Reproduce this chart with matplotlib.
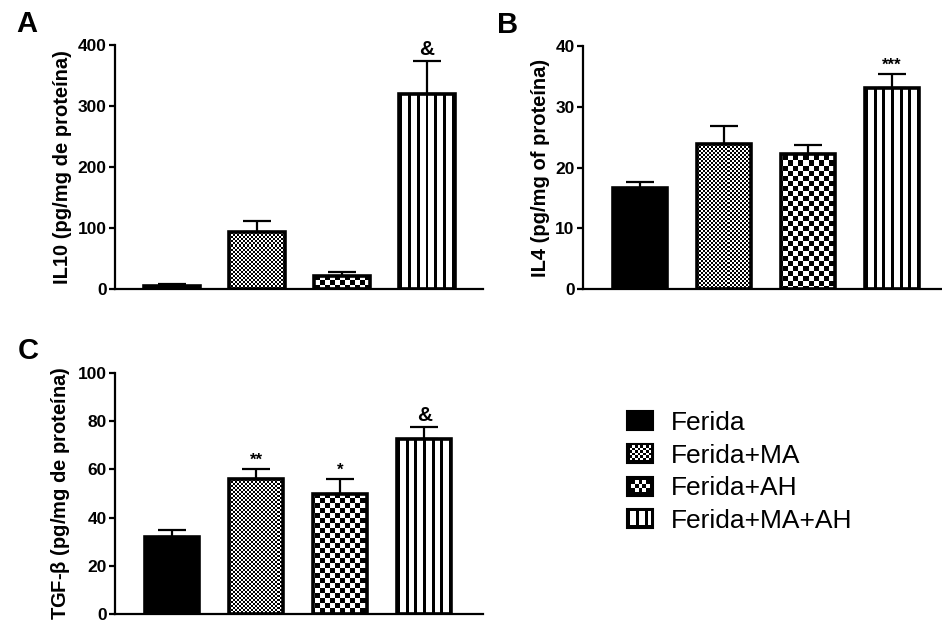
import numpy as np
import matplotlib
matplotlib.use("Agg")
import matplotlib.pyplot as plt
from matplotlib.legend_handler import HandlerBase
from matplotlib.image import BboxImage
from matplotlib.transforms import Bbox, TransformedBbox
from matplotlib.patches import Rectangle, Patch
from matplotlib.colors import Normalize

plt.rcParams['font.family'] = ['Liberation Sans', 'DejaVu Sans']

# ---------------- data ----------------
groups = ["Ferida", "Ferida+MA", "Ferida+AH", "Ferida+MA+AH"]

il10_mean = [4.3, 94, 21, 320]
il10_err = [4.4, 18, 7, 54]
il10_marks = ["", "", "", "&"]

il4_mean = [16.7, 23.8, 22.3, 33.1]
il4_err = [0.9, 3.1, 1.4, 2.3]
il4_marks = ["", "", "", "***"]

tgf_mean = [32, 56, 50, 72.8]
tgf_err = [3, 4, 6, 5]
tgf_marks = ["", "**", "*", "&"]

il10_ticks = [0, 100, 200, 300, 400]
il4_ticks = [0, 10, 20, 30, 40]
tgf_ticks = [0, 20, 40, 60, 80, 100]

# ---------------- figure ----------------
FW, FH = 942, 623
fig = plt.figure(figsize=(FW / 100, FH / 100), dpi=100)


def px_axes(left, top, right, bottom):
    return fig.add_axes([left / FW, 1 - bottom / FH, (right - left) / FW, (bottom - top) / FH])


def checker(h, w, cell):
    yy, xx = np.mgrid[0:h, 0:w]
    return ((yy // cell + xx // cell) % 2).astype(float)


styles = ["solid", "fine", "coarse", "stripes"]
BAR_W = 0.65


def draw_panel(ax, means, errs, marks, ticks, ylabel, letter, letter_xy, pxw, pxh, xlim):
    x = np.arange(len(means))
    ymax = ticks[-1]
    ax.set_xlim(*xlim)
    ax.set_ylim(0, ymax)
    # error bars (upper only), below bars
    ax.errorbar(x, means, yerr=[np.zeros(len(errs)), errs], fmt='none', ecolor='black',
                elinewidth=1.6, capsize=10, capthick=1.6, zorder=0.5)
    bars = ax.bar(x, means, width=BAR_W, color='white', edgecolor='none', zorder=1)
    fine = checker(int(pxh), int(pxw), 2)
    coarse = checker(int(pxh), int(pxw), 5)
    for i, (b, st) in enumerate(zip(bars, styles)):
        if st == "solid":
            b.set_facecolor('black')
        elif st in ("fine", "coarse"):
            im = ax.imshow(fine if st == "fine" else coarse, extent=(0, 1, 0, 1),
                           transform=ax.transAxes, cmap='gray', norm=Normalize(0, 1),
                           interpolation='nearest', aspect='auto', zorder=2)
            im.set_clip_path(b)
        else:
            pat = np.array([[0, 1, 1] * 6 + [0]], dtype=float)
            ax.imshow(pat, extent=(x[i] - BAR_W / 2, x[i] + BAR_W / 2, 0, means[i]),
                      cmap='gray', norm=Normalize(0, 1), interpolation='nearest',
                      aspect='auto', zorder=2)
    ax.bar(x, means, width=BAR_W, fill=False, edgecolor='black', linewidth=2.6, zorder=3)
    ax.set_xlim(*xlim)
    ax.set_ylim(0, ymax)
    for i, m in enumerate(marks):
        if m:
            fs = 15 if m == "&" else 12
            ax.annotate(m, (x[i], means[i] + errs[i]), xytext=(0, 1), textcoords='offset points',
                        ha='center', va='bottom', fontsize=fs, fontweight='bold', zorder=4,
                        annotation_clip=False)
    ax.set_yticks(ticks)
    ax.set_yticklabels([str(t) for t in ticks])
    ax.set_xticks([])
    for s in ['top', 'right']:
        ax.spines[s].set_visible(False)
    for s in ['left', 'bottom']:
        ax.spines[s].set_linewidth(1.6)
    ax.tick_params(axis='y', direction='out', length=4, width=1.6, pad=2, labelsize=12.5)
    for lab in ax.get_yticklabels():
        lab.set_fontweight('bold')
    ax.set_ylabel(ylabel, fontsize=14.5, fontweight='bold', labelpad=4)
    fig.text(letter_xy[0] / FW, 1 - letter_xy[1] / FH, letter, fontsize=21, fontweight='bold',
             ha='center', va='center')


axA = px_axes(115, 45, 483, 289)
draw_panel(axA, il10_mean, il10_err, il10_marks, il10_ticks,
           "IL10 (pg/mg de proteína)", "A", (27, 24), 368, 244, (-0.67, 3.66))

axB = px_axes(583, 46, 949, 289)
draw_panel(axB, il4_mean, il4_err, il4_marks, il4_ticks,
           "IL4 (pg/mg of proteína)", "B", (508, 25), 366, 243, (-0.68, 3.68))

axC = px_axes(115, 373, 483, 614)
draw_panel(axC, tgf_mean, tgf_err, tgf_marks, tgf_ticks,
           r"TGF-$\mathregular{\beta}$ (pg/mg de proteína)", "C", (28, 351), 368, 241, (-0.68, 3.70))


# ---------------- legend ----------------
class HandlerPattern(HandlerBase):
    def __init__(self, data):
        super().__init__()
        self.data = data

    def create_artists(self, legend, orig_handle, xdescent, ydescent, width, height, fontsize, trans):
        bb = TransformedBbox(Bbox.from_bounds(-xdescent, -ydescent, width, height), trans)
        img = BboxImage(bb, cmap='gray', norm=Normalize(0, 1), interpolation='nearest')
        img.set_data(self.data)
        rect = Rectangle((-xdescent, -ydescent), width, height, fill=False,
                         edgecolor='black', linewidth=1.5, transform=trans)
        return [img, rect]


def bordered(inner):
    h, w = inner.shape
    out = np.zeros((h + 2, w + 2))
    out[1:-1, 1:-1] = inner
    return out


stripes_sw = np.array([[0, 1, 1, 0, 1, 1, 0, 1, 0]] * 7, dtype=float)
stripes_sw[0, :] = 0
stripes_sw[-1, :] = 0

leg_data = [
    np.zeros((2, 2)),
    bordered(checker(6, 8, 1)),
    bordered(checker(3, 5, 1)),
    stripes_sw,
]

handles = [Patch(facecolor='white', edgecolor='black', label=g) for g in groups]
hmap = {h: HandlerPattern(d) for h, d in zip(handles, leg_data)}
fig.legend(handles=handles, labels=groups, handler_map=hmap, loc='upper left',
           bbox_to_anchor=(627 / FW, 1 - 411 / FH), frameon=False, borderpad=0,
           borderaxespad=0, fontsize=19, handlelength=1.0, handleheight=0.74,
           handletextpad=0.68, labelspacing=0.33)

fig.savefig("out.png", dpi=100)
